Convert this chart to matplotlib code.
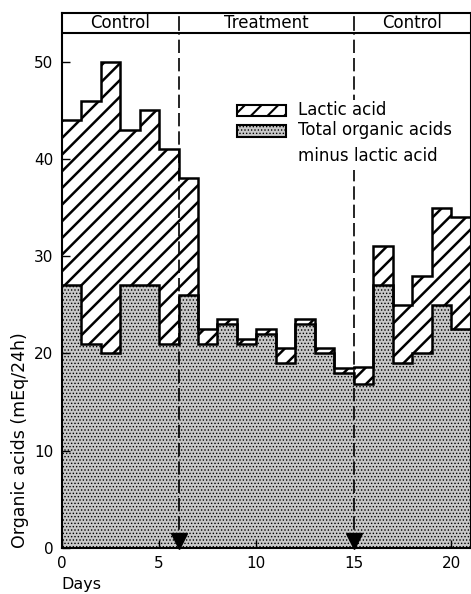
import matplotlib.pyplot as plt
import numpy as np

# dane (mEq/24h), jeden slupek na dobe
days = np.arange(0, 22)  # krawedzie slupkow
other = [27, 21, 20, 27, 27, 21, 26, 21, 23, 21, 22, 19, 23, 20, 18, 16.8, 27, 19, 20, 25, 22.5]
lactic = [17, 25, 30, 16, 18, 20, 12, 1.5, 0.5, 0.5, 0.5, 1.5, 0.5, 0.5, 0.5, 1.8, 4, 6, 8, 10, 11.5]
phases = ["Control", "Treatment", "Control"]
phase_edges = [0, 6, 15, 21]
markers = [6, 15]

other = np.array(other)
total = other + np.array(lactic)
left = days[:-1]

plt.rcParams['font.family'] = 'DejaVu Sans'
fig = plt.figure(figsize=(4.71, 5.94), dpi=100)
ax = fig.add_axes([0.131, 0.078, 0.868, 0.8996])

# wypelnienia
plt.rcParams['hatch.linewidth'] = 0.6
ax.bar(left, other, width=1, align='edge', facecolor='#c8c8c8', edgecolor='black',
       linewidth=0, hatch='.....', zorder=1)
plt.rcParams['hatch.linewidth'] = 1.8
ax.bar(left, total - other, bottom=other, width=1, align='edge', facecolor='white',
       edgecolor='black', linewidth=0, hatch='//', zorder=1)

# obrysy schodkowe
ax.stairs(total, days, baseline=None, color='black', linewidth=1.8, zorder=3)
ax.stairs(other, days, baseline=None, color='black', linewidth=1.8, zorder=3)

# linie przerywane i strzalki
for m in markers:
    ax.plot([m, m], [0, 53], color='black', linestyle=(0, (8, 3)), linewidth=1.2, zorder=4)
    ax.plot(m, 0.65, marker='v', color='black', markersize=11, clip_on=False, zorder=5)

# naglowek
ax.axhline(53, color='black', linewidth=1.5, zorder=5)
for m in markers:
    ax.plot([m, m], [53.3, 54.6], color='black', linewidth=1.2, zorder=5)
for i, name in enumerate(phases):
    ax.text((phase_edges[i] + phase_edges[i + 1]) / 2, 54.0, name, ha='center', va='center',
            fontsize=12)

# legenda
ax.add_patch(plt.Rectangle((8.8, 38.9), 12.2, 7.2, facecolor='white', edgecolor='none', zorder=6))
plt.rcParams['hatch.linewidth'] = 1.5
ax.add_patch(plt.Rectangle((9.0, 44.4), 2.5, 1.2, facecolor='white', edgecolor='black',
                           hatch='//', linewidth=1.5, zorder=7))
plt.rcParams['hatch.linewidth'] = 0.6
ax.add_patch(plt.Rectangle((9.0, 42.3), 2.5, 1.2, facecolor='#c8c8c8', edgecolor='black',
                           hatch='.....', linewidth=1.5, zorder=7))
ax.text(12.15, 45.05, "Lactic acid", ha='left', va='center', fontsize=12, zorder=8)
ax.text(12.15, 43.0, "Total organic acids", ha='left', va='center', fontsize=12, zorder=8)
ax.text(12.15, 40.3, "minus lactic acid", ha='left', va='center', fontsize=12, zorder=8)

ax.set_xlim(0, 21)
ax.set_ylim(0, 55)
ax.set_xticks([0, 5, 10, 15, 20])
ax.set_yticks([0, 10, 20, 30, 40, 50])
ax.tick_params(direction='in', length=6, width=1, labelsize=11, pad=6)
for s in ax.spines.values():
    s.set_linewidth(1.5)
    s.set_zorder(6)

ax.text(-0.102, 0.0, "Organic acids (mEq/24h)", rotation=90, ha='center', va='bottom',
        fontsize=12.5, transform=ax.transAxes)
ax.text(0.0, -0.069, "Days", ha='left', va='center', fontsize=11.5, transform=ax.transAxes)

fig.savefig('out.png', dpi=100)
